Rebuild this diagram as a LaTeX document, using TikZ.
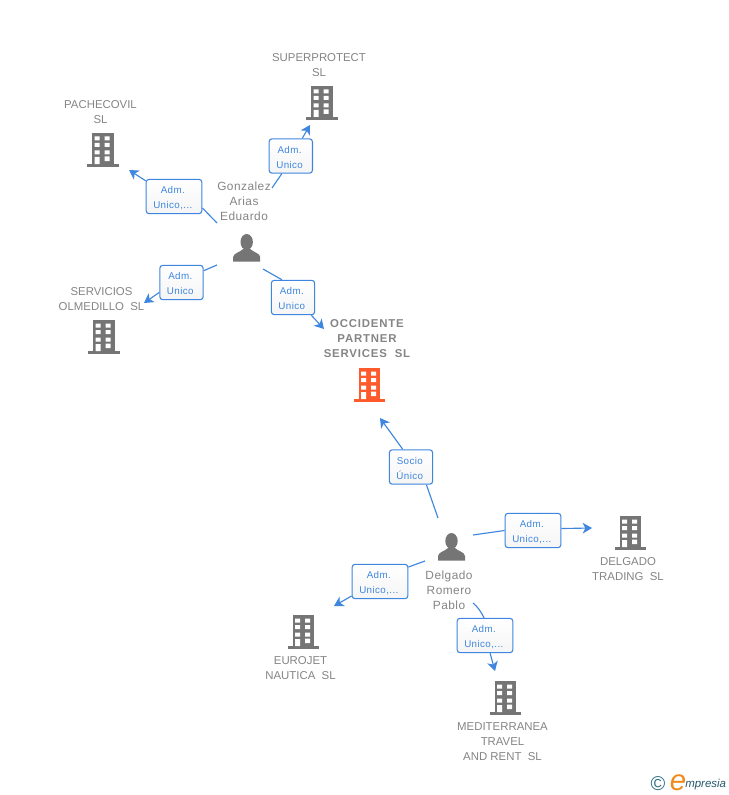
\documentclass[tikz,border=0pt]{standalone}
\usepackage{fontspec}
\setmainfont{Liberation Sans}
\newfontfamily\spacedfont[LetterSpace=4]{Liberation Sans}
\newfontfamily\hotfont[LetterSpace=7,BoldFont={Liberation Sans Bold}]{Liberation Sans}
\usetikzlibrary{arrows.meta}
\definecolor{lblgray}{HTML}{858585}
\definecolor{icongray}{HTML}{757575}
\definecolor{hotorange}{HTML}{FF5A2B}
\definecolor{linkblue}{HTML}{3F86DE}
\definecolor{logoteal}{HTML}{2F6F86}
\definecolor{logoorange}{HTML}{F08A1C}
\tikzset{
  x=0.75pt,y=-0.75pt,
  bldg/.pic={
    \fill[pic actions] (-10.5,0) rectangle (11,31);
    \fill[pic actions] (-15.5,31) rectangle (16,34);
    \fill[white] (-8,3.5) rectangle (-3,7.5) (2,3.5) rectangle (7,7.5)
                 (-8,10) rectangle (-3,14) (2,10) rectangle (7,14)
                 (-8,17.5) rectangle (-3,21.5) (2,17.5) rectangle (7,21.5)
                 (2,23.5) rectangle (7,28) (-8,24) rectangle (-3,31);
  },
  person/.pic={
    \fill[icongray] (0,8) ellipse[x radius=6.2,y radius=8];
    \fill[icongray] (-13.5,27.5) -- (-13.5,23) .. controls (-13,19) and (-7,18.5) .. (-3.5,15)
      -- (3.5,15) .. controls (7,18.5) and (13,19) .. (13.5,23) -- (13.5,27.5) -- cycle;
  },
  lbl/.style={text=lblgray,align=center,inner sep=0pt,font=\fontsize{8.55pt}{11.25pt}\selectfont},
  personlbl/.style={lbl,font=\spacedfont\fontsize{8.9pt}{11.25pt}\selectfont},
  hotlbl/.style={lbl,font=\hotfont\fontsize{8.55pt}{11.25pt}\selectfont\bfseries},
  boxtxt/.style={text=linkblue,align=center,inner sep=0pt,yshift=-1pt,xshift=-0.9pt,
    font=\spacedfont\fontsize{7.35pt}{11.25pt}\selectfont},
  linkbox/.style={draw=linkblue,line width=0.8pt,rounded corners=2.2pt,top color=white,bottom color=white!96!black,inner sep=0pt},
  narrowbox/.style={linkbox,minimum width=32.5pt,minimum height=25.8pt},
  widebox/.style={linkbox,minimum width=41.8pt,minimum height=25.8pt},
  link/.style={draw=linkblue,line width=0.85pt},
  arrowlink/.style={link,-{Stealth[length=7pt,width=8pt,inset=2pt]}},
}
\begin{document}
\begin{tikzpicture}
\useasboundingbox (0,0) rectangle (728,795);
\fill[white] (0,0) rectangle (728,795);

% icons
\pic[fill=icongray] at (321.5,86) {bldg};
\pic[fill=icongray] at (102.5,133) {bldg};
\pic[fill=icongray] at (103.5,320) {bldg};
\pic[fill=hotorange] at (369,368) {bldg};
\pic[fill=icongray] at (630,516) {bldg};
\pic[fill=icongray] at (303,615) {bldg};
\pic[fill=icongray] at (505,681) {bldg};
\pic at (246.7,234) {person};
\pic at (451.5,533) {person};

% labels
\node[lbl] (lsuper) at (319,65.5) {SUPERPROTECT\\SL};
\node[lbl] (lpache) at (100.5,112.5) {PACHECOVIL\\SL};
\node[personlbl] (lgonz) at (244,201) {Gonzalez\\Arias\\Eduardo};
\node[lbl] (lserv) at (101.5,299.5) {SERVICIOS\\OLMEDILLO\ \ SL};
\node[hotlbl] (locc) at (367,339) {OCCIDENTE\\PARTNER\\SERVICES\ \ SL};
\node[personlbl] (ldelg) at (449,590) {Delgado\\Romero\\Pablo};
\node[lbl] (ltrad) at (628,569.5) {DELGADO\\TRADING\ \ SL};
\node[lbl] (leuro) at (300.5,668.5) {EUROJET\\NAUTICA\ \ SL};
\node[lbl] (lmedi) at (502.5,742) {MEDITERRANEA\\TRAVEL\\AND RENT\ \ SL};

% relation boxes
\node[narrowbox,label={[boxtxt]center:{Adm.\\Unico}}] (bsuper) at (290.8,156) {};
\node[widebox,label={[boxtxt]center:{Adm.\\Unico,...}}] (bpache) at (174,196.5) {};
\node[narrowbox,label={[boxtxt]center:{Adm.\\Unico}}] (bserv) at (181.5,282.5) {};
\node[narrowbox,label={[boxtxt]center:{Adm.\\Unico}}] (bocc) at (293,297.5) {};
\node[narrowbox,label={[boxtxt]center:{Socio\\Único}}] (bsocio) at (411,467) {};
\node[widebox,label={[boxtxt]center:{Adm.\\Unico,...}}] (btrad) at (533,530.5) {};
\node[widebox,label={[boxtxt]center:{Adm.\\Unico,...}}] (beuro) at (380,581.5) {};
\node[widebox,label={[boxtxt]center:{Adm.\\Unico,...}}] (bmedi) at (485,635.5) {};

% connector ends
\coordinate (s1) at (272,188);   \coordinate (t1) at (310,125);
\coordinate (s2) at (217,223);   \coordinate (t2) at (129,170);
\coordinate (s3) at (217,265);   \coordinate (t3) at (144,303);
\coordinate (s4) at (263,269);   \coordinate (t4) at (324,329);
\coordinate (s5) at (438,518);   \coordinate (t5) at (380,418);
\coordinate (s6) at (473,535);   \coordinate (t6) at (592,528);
\coordinate (s7) at (425,561);   \coordinate (t7) at (334,606);
\coordinate (s8) at (473,603);   \coordinate (t8) at (495,671);

% connectors
\draw[link] (s1) -- (bsuper.243);
\draw[arrowlink] (bsuper.57) -- (t1);
\draw[link] (s2) -- (bpache.-22);
\draw[arrowlink] (bpache.151) -- (t2);
\draw[link] (s3) -- (bserv.28);
\draw[arrowlink] (bserv.204) -- (t3);
\draw[link] (s4) -- (bocc.122);
\draw[arrowlink] (bocc.-44) -- (t4);
\draw[link] (s5) -- (bsocio.-49);
\draw[arrowlink] (bsocio.115) -- (t5);
\draw[link] (s6) -- (btrad.180);
\draw[arrowlink] (btrad.4) -- (t6);
\draw[link] (s7) -- (beuro.27);
\draw[arrowlink] (beuro.207) -- (t7);
\draw[link] (s8) .. controls (478,607) and (481,612) .. (bmedi.93);
\draw[arrowlink] (bmedi.-74) -- (t8);

% logo
\node[inner sep=0pt,text=logoteal,font=\fontsize{15pt}{15pt}\selectfont] (lcopy) at (658,784) {©};
\node[inner sep=0pt,text=logoorange,font=\itshape\fontsize{22pt}{22pt}\selectfont] (llogoe) at (678,782.5) {e};
\node[inner sep=0pt,anchor=west,text=logoteal!80!black,font=\itshape\fontsize{8.6pt}{10pt}\selectfont] (llogo) at (685,784.5) {mpresia};
\end{tikzpicture}
\end{document}
